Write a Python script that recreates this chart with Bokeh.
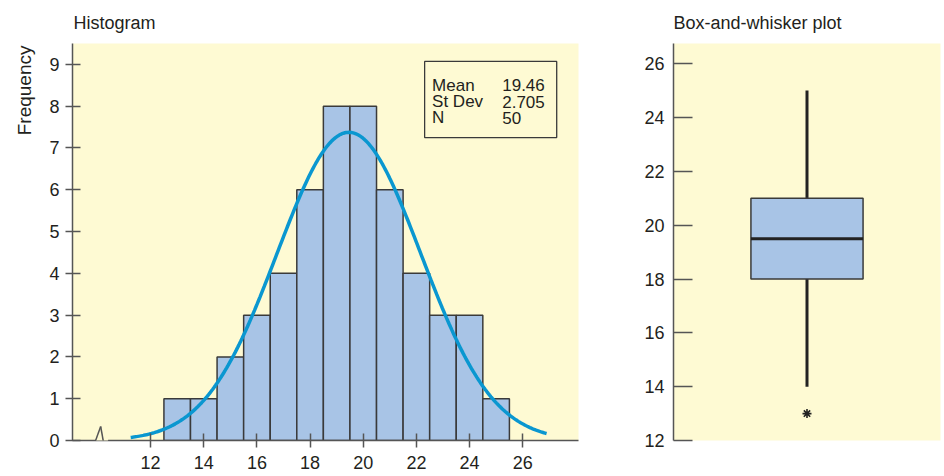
import numpy as np
from bokeh.plotting import figure
from bokeh.models import Range1d, FixedTicker, Arrow, Title
from bokeh.layouts import row
from bokeh.embed import file_html
from bokeh.resources import INLINE
from bokeh.core.properties import value

# ---------------- data ----------------
bin_centers = [13, 14, 15, 16, 17, 18, 19, 20, 21, 22, 23, 24, 25]
counts = [1, 1, 2, 3, 4, 6, 8, 8, 6, 4, 3, 3, 1]
bin_width = 1.0
mean_val = 19.46
sd_val = 2.705
n_val = 50
curve_start, curve_end = 11.25, 26.9

hist_x_ticks = [12, 14, 16, 18, 20, 22, 24, 26]
hist_y_ticks = [0, 1, 2, 3, 4, 5, 6, 7, 8, 9]

stats_labels = ["Mean", "St Dev", "N"]
stats_values = ["19.46", "2.705", "50"]

box_q1 = 18.0
box_median = 19.5
box_q3 = 21.0
whisker_low = 14.0
whisker_high = 25.0
outliers = [13.0]
box_y_ticks = [12, 14, 16, 18, 20, 22, 24, 26]

# ---------------- style ----------------
FONT = "Liberation Sans"
BG = "#FEFAD3"
BAR = "#A8C4E6"
EDGE = "#3a3a3a"
AXIS = "#555555"
TXT = "#231f20"
CURVE = "#0A97D0"

X_START, X_END = 9.06, 28.1
Y_TOP = 9.5


def style_axis(ax, ticks, tin, tout, standoff):
    ax.ticker = FixedTicker(ticks=ticks)
    ax.minor_tick_line_color = None
    ax.major_tick_in = tin
    ax.major_tick_out = tout
    ax.major_tick_line_color = AXIS
    ax.major_tick_line_width = 1.5
    ax.axis_line_color = AXIS
    ax.axis_line_width = 1.5
    ax.major_label_text_font = FONT
    ax.major_label_text_font_size = "18px"
    ax.major_label_text_color = TXT
    ax.major_label_standoff = standoff


def style_title(p, text, offset, standoff):
    p.title.text = text
    p.title.align = "left"
    p.title.vertical_align = "top"
    p.title.text_font = FONT
    p.title.text_font_size = "18px"
    p.title.text_font_style = "normal"
    p.title.text_color = TXT
    p.title.offset = offset
    p.title.standoff = standoff


# ---------------- histogram ----------------
p1 = figure(width=608, height=476, x_range=Range1d(X_START, X_END),
            y_range=Range1d(0, Y_TOP), output_backend="svg",
            toolbar_location=None, min_border_left=72, min_border_right=30,
            min_border_top=43, min_border_bottom=0)
p1.background_fill_color = BG
p1.border_fill_color = "white"
p1.outline_line_color = None
p1.grid.visible = False
style_axis(p1.xaxis[0], hist_x_ticks, 7, 7, 8)
style_axis(p1.yaxis[0], hist_y_ticks, 8, 7, 6)
style_title(p1, "Histogram", 1, 18)

# "Frequency" label at the upper end of the y axis
p1.add_layout(Title(text="Frequency", align="right", vertical_align="top", offset=2,
                    standoff=20, text_font=FONT, text_font_size="19px",
                    text_font_style="normal", text_color=TXT), "left")

lefts = [c - bin_width / 2 for c in bin_centers]
rights = [c + bin_width / 2 for c in bin_centers]
p1.quad(left=lefts, right=rights, bottom=0, top=counts,
        fill_color=BAR, line_color=EDGE, line_width=1.5)

xs = np.linspace(curve_start, curve_end, 300)
ys = n_val * bin_width * np.exp(-0.5 * ((xs - mean_val) / sd_val) ** 2) / (sd_val * np.sqrt(2 * np.pi))
p1.line(xs, ys, line_color=CURVE, line_width=3.5)

# stats box
sb_left, sb_right, sb_bottom, sb_top = 22.31, 27.28, 7.25, 9.07
p1.quad(left=[sb_left], right=[sb_right], bottom=[sb_bottom], top=[sb_top],
        fill_color=BG, line_color=EDGE, line_width=1.3)
row_y = [8.50, 8.11, 7.72]
p1.text(x=[sb_left + 0.28] * 3, y=row_y, text=stats_labels,
        text_font=value(FONT), text_font_size="17px", text_color=TXT,
        text_baseline="alphabetic", text_align="left")
p1.text(x=[sb_left + 2.92] * 3, y=row_y, text=stats_values,
        text_font=value(FONT), text_font_size="17px", text_color=TXT,
        text_baseline="alphabetic", text_align="left")

# axis break zigzag
bx = [9.93, 10.12, 10.31, 10.42]
by = [0.0, 0.335, -0.335, 0.0]
p1.add_layout(Arrow(end=None, x_start=bx[0] + 0.02, y_start=0, x_end=bx[3] - 0.02, y_end=0,
                    line_color=BG, line_width=3))
for i in range(3):
    p1.add_layout(Arrow(end=None, x_start=bx[i], y_start=by[i], x_end=bx[i + 1], y_end=by[i + 1],
                        line_color=AXIS, line_width=1.5))

# ---------------- box plot ----------------
p2 = figure(width=336, height=476, x_range=Range1d(0, 1), y_range=Range1d(12, 26.75),
            output_backend="svg", toolbar_location=None, x_axis_type=None,
            min_border_left=65, min_border_right=4, min_border_top=43,
            min_border_bottom=36)
p2.background_fill_color = BG
p2.border_fill_color = "white"
p2.outline_line_color = None
p2.grid.visible = False
style_axis(p2.yaxis[0], box_y_ticks, 19, 0, 9)
style_title(p2, "Box-and-whisker plot", 0, 18)

BOX_L, BOX_R, BOX_C = 0.29, 0.71, 0.5
p2.segment(x0=[BOX_C, BOX_C], x1=[BOX_C, BOX_C], y0=[box_q3, box_q1],
           y1=[whisker_high, whisker_low], line_color="#222222", line_width=3)
p2.quad(left=[BOX_L], right=[BOX_R], bottom=[box_q1], top=[box_q3],
        fill_color=BAR, line_color=EDGE, line_width=1.5)
p2.segment(x0=[BOX_L], x1=[BOX_R], y0=[box_median], y1=[box_median],
           line_color="#222222", line_width=3)
p2.scatter(x=[BOX_C] * len(outliers), y=outliers, marker="asterisk", size=9,
           line_color="#222222", line_width=1.6)

layout = row(p1, p2)
open("out.html", "w").write(file_html(layout, INLINE))
